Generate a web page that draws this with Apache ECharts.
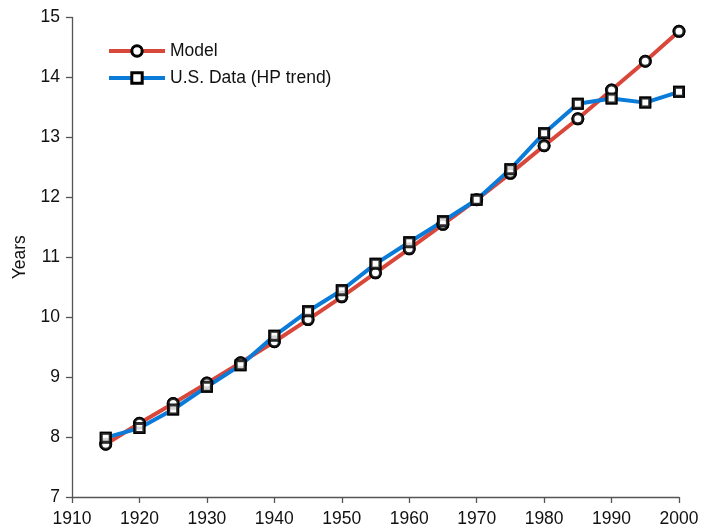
<!DOCTYPE html>
<html>
<head>
<meta charset="utf-8">
<script src="https://cdn.jsdelivr.net/npm/echarts@6/dist/echarts.min.js"></script>
<style>
  html, body { margin: 0; padding: 0; background: #fff; }
  #chart { width: 702px; height: 531px; }
</style>
</head>
<body>
<div id="chart"></div>
<script>
var years = [1915, 1920, 1925, 1930, 1935, 1940, 1945, 1950, 1955, 1960, 1965, 1970, 1975, 1980, 1985, 1990, 1995, 2000];
var model = [7.88, 8.23, 8.56, 8.90, 9.24, 9.59, 9.96, 10.34, 10.74, 11.14, 11.55, 11.96, 12.40, 12.86, 13.31, 13.79, 14.27, 14.77];
var usData = [7.99, 8.15, 8.46, 8.84, 9.20, 9.69, 10.10, 10.45, 10.89, 11.25, 11.60, 11.96, 12.47, 13.07, 13.56, 13.65, 13.58, 13.76];

var fontFamily = 'Liberation Sans, Arial, Helvetica, sans-serif';

function pairs(vals) {
  return years.map(function (y, i) { return [y, vals[i]]; });
}

var chart = echarts.init(document.getElementById('chart'), null, { renderer: 'canvas' });

var axisLine = { show: true, lineStyle: { color: '#555', width: 1.3 } };
var axisTick = { show: true, length: 6, lineStyle: { color: '#555', width: 1.3 } };
var markStyle = { color: '#fff', borderColor: '#000', borderWidth: 3 };

var option = {
  animation: false,
  textStyle: { fontFamily: fontFamily },
  grid: { left: 72, right: 23, top: 17.5, bottom: 34 },
  legend: {
    left: 107,
    top: 42,
    padding: 0,
    orient: 'vertical',
    itemWidth: 56,
    itemHeight: 13,
    itemGap: 9,
    lineStyle: { width: 4 },
    itemStyle: { borderWidth: 3, borderColor: '#000', color: '#fff' },
    textStyle: { fontSize: 17.5, color: '#111', fontFamily: fontFamily },
    data: ['Model', 'U.S. Data (HP trend)']
  },
  xAxis: {
    type: 'value',
    min: 1910,
    max: 2000,
    interval: 10,
    splitLine: { show: false },
    axisLine: axisLine,
    axisTick: axisTick,
    axisLabel: {
      fontSize: 17.5,
      color: '#111',
      margin: 13,
      formatter: function (v) { return String(v); }
    }
  },
  yAxis: {
    type: 'value',
    min: 7,
    max: 15,
    interval: 1,
    name: 'Years',
    nameLocation: 'middle',
    nameGap: 39,
    nameTextStyle: { fontSize: 17.5, color: '#111' },
    splitLine: { show: false },
    axisLine: axisLine,
    axisTick: axisTick,
    axisLabel: { fontSize: 17.5, color: '#111', margin: 12 }
  },
  series: [
    {
      name: 'Model',
      type: 'line',
      data: pairs(model),
      color: '#d9473b',
      symbol: 'circle',
      symbolSize: 10,
      lineStyle: { color: '#d9473b', width: 4 },
      itemStyle: markStyle,
      z: 2
    },
    {
      name: 'U.S. Data (HP trend)',
      type: 'line',
      data: pairs(usData),
      color: '#0a7bd9',
      symbol: 'rect',
      symbolSize: 9,
      lineStyle: { color: '#0a7bd9', width: 4 },
      itemStyle: markStyle,
      z: 2
    },
    {
      name: 'modelMarks',
      type: 'scatter',
      data: pairs(model),
      symbol: 'circle',
      symbolSize: 10,
      itemStyle: markStyle,
      z: 4
    },
    {
      name: 'usMarks',
      type: 'scatter',
      data: pairs(usData),
      symbol: 'rect',
      symbolSize: 9,
      itemStyle: markStyle,
      z: 5
    }
  ]
};

chart.setOption(option);
</script>
</body>
</html>
